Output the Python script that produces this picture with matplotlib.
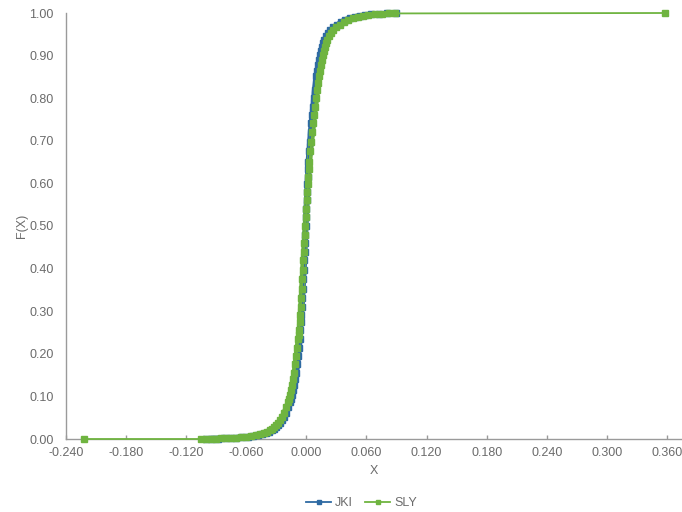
import matplotlib
matplotlib.use("Agg")
import matplotlib.pyplot as plt
from matplotlib.ticker import FormatStrFormatter

sly_x = [-0.222, -0.105, -0.100, -0.095, -0.090, -0.085, -0.080, -0.075, -0.070, -0.065,
         -0.060, -0.055, -0.050, -0.046, -0.042, -0.039, -0.036, -0.034, -0.032, -0.030,
         -0.028, -0.026, -0.024, -0.022, -0.020, -0.018, -0.017, -0.016, -0.015, -0.014,
         -0.013, -0.012, -0.011, -0.010, -0.009, -0.008, -0.0075, -0.007, -0.0065, -0.006,
         -0.0055, -0.005, -0.0045, -0.004, -0.0035, -0.003, -0.0025, -0.002, -0.0015, -0.001,
         -0.0005, 0.000, 0.0005, 0.001, 0.0015, 0.002, 0.0025, 0.003, 0.004, 0.005,
         0.006, 0.007, 0.008, 0.009, 0.010, 0.011, 0.012, 0.013, 0.014, 0.015,
         0.016, 0.017, 0.018, 0.019, 0.020, 0.021, 0.023, 0.025, 0.027, 0.030,
         0.034, 0.038, 0.042, 0.047, 0.052, 0.057, 0.062, 0.068, 0.075, 0.082,
         0.088, 0.358]
sly_f = [0.000, 0.000, 0.000, 0.001, 0.001, 0.002, 0.002, 0.003, 0.003, 0.004,
         0.005, 0.007, 0.009, 0.011, 0.013, 0.016, 0.020, 0.024, 0.028, 0.033,
         0.038, 0.045, 0.052, 0.062, 0.074, 0.086, 0.094, 0.104, 0.115, 0.127,
         0.140, 0.156, 0.175, 0.195, 0.214, 0.234, 0.245, 0.256, 0.275, 0.292,
         0.311, 0.330, 0.352, 0.375, 0.397, 0.420, 0.440, 0.460, 0.480, 0.500,
         0.520, 0.540, 0.560, 0.580, 0.598, 0.615, 0.633, 0.650, 0.675, 0.698,
         0.720, 0.741, 0.761, 0.780, 0.800, 0.820, 0.836, 0.851, 0.865, 0.878,
         0.890, 0.901, 0.911, 0.921, 0.929, 0.937, 0.946, 0.954, 0.960, 0.966,
         0.972, 0.979, 0.984, 0.988, 0.991, 0.994, 0.996, 0.997, 0.998, 0.999,
         0.999, 1.000]

jki_x = [-0.100, -0.094, -0.088, -0.082, -0.076, -0.070, -0.064, -0.058, -0.053, -0.048,
         -0.044, -0.040, -0.037, -0.034, -0.032, -0.030, -0.028, -0.026, -0.024, -0.022,
         -0.020, -0.018, -0.016, -0.015, -0.014, -0.013, -0.012, -0.011, -0.010, -0.009,
         -0.008, -0.0072, -0.0065, -0.006, -0.0055, -0.005, -0.0045, -0.004, -0.0035, -0.003,
         -0.0025, -0.002, -0.0017, -0.0013, -0.001, -0.0007, -0.0003, 0.000, 0.0003, 0.0007,
         0.001, 0.0013, 0.0017, 0.002, 0.0027, 0.0035, 0.0042, 0.005, 0.0058, 0.0066,
         0.0075, 0.0083, 0.0092, 0.010, 0.011, 0.012, 0.013, 0.014, 0.015, 0.016,
         0.017, 0.018, 0.020, 0.022, 0.024, 0.027, 0.031, 0.035, 0.039, 0.044,
         0.049, 0.054, 0.059, 0.065, 0.072, 0.080, 0.089]
jki_f = [0.000, 0.001, 0.001, 0.002, 0.002, 0.003, 0.004, 0.005, 0.007, 0.009,
         0.011, 0.013, 0.016, 0.020, 0.024, 0.028, 0.033, 0.038, 0.045, 0.052,
         0.062, 0.074, 0.086, 0.094, 0.104, 0.115, 0.127, 0.140, 0.156, 0.175,
         0.195, 0.214, 0.234, 0.256, 0.275, 0.292, 0.311, 0.330, 0.352, 0.375,
         0.397, 0.420, 0.440, 0.460, 0.480, 0.500, 0.520, 0.540, 0.560, 0.580,
         0.598, 0.615, 0.633, 0.650, 0.675, 0.698, 0.720, 0.741, 0.761, 0.780,
         0.800, 0.820, 0.836, 0.851, 0.865, 0.878, 0.890, 0.901, 0.911, 0.921,
         0.929, 0.937, 0.946, 0.954, 0.960, 0.966, 0.972, 0.979, 0.984, 0.988,
         0.991, 0.994, 0.996, 0.997, 0.998, 0.999, 1.000]

x_ticks = [-0.24, -0.18, -0.12, -0.06, 0.0, 0.06, 0.12, 0.18, 0.24, 0.30, 0.36]
y_ticks = [0.0, 0.1, 0.2, 0.3, 0.4, 0.5, 0.6, 0.7, 0.8, 0.9, 1.0]

BLUE = "#2e6aa3"
GREEN = "#6fb440"
GRAY_TXT = "#6b6b6b"
GRAY_AX = "#9a9a9a"

plt.rcParams['font.family'] = ['Liberation Sans', 'DejaVu Sans']

fig = plt.figure(figsize=(6.82, 5.12), dpi=100)
ax = fig.add_axes([66/682, 1 - 439/512, (682 - 66)/682, (439 - 13)/512])

# dense band where many observations overlap (isolated extremes excluded)
ax.plot(jki_x, jki_f, color=BLUE, lw=4.0, solid_capstyle='butt', zorder=2)
ax.plot(sly_x[1:-1], sly_f[1:-1], color=GREEN, lw=4.0, solid_capstyle='butt', zorder=3)

ax.plot(jki_x, jki_f, color=BLUE, lw=1.3, marker='s', ms=4.2, mec=BLUE, mfc=BLUE,
        label='JKI', clip_on=False, zorder=3)
ax.plot(sly_x, sly_f, color=GREEN, lw=1.3, marker='s', ms=4.2, mec=GREEN, mfc=GREEN,
        label='SLY', clip_on=False, zorder=4)

ax.set_xlim(-0.24, 0.36 + 15/1000)
ax.set_ylim(0, 1.0)
ax.set_xticks(x_ticks)
ax.set_yticks(y_ticks)
ax.xaxis.set_major_formatter(FormatStrFormatter('%.3f'))
ax.yaxis.set_major_formatter(FormatStrFormatter('%.2f'))

for s in ['top', 'right']:
    ax.spines[s].set_visible(False)
for s in ['left', 'bottom']:
    ax.spines[s].set_color(GRAY_AX)
    ax.spines[s].set_linewidth(1.0)

ax.tick_params(axis='x', direction='in', length=3, width=1, color=GRAY_AX,
               labelsize=9, labelcolor=GRAY_TXT, pad=6)
ax.tick_params(axis='y', length=0, labelsize=9, labelcolor=GRAY_TXT, pad=9)

ax.set_xlabel('X', fontsize=9, color=GRAY_TXT, labelpad=4)
ax.set_ylabel('F(X)', fontsize=9, color=GRAY_TXT, labelpad=1)

leg = fig.legend(loc='center', bbox_to_anchor=(0.53, 1 - 503/512), ncol=2, frameon=False,
                 fontsize=9, handlelength=2.0, columnspacing=1.0, handletextpad=0.3,
                 markerscale=0.8)
for t in leg.get_texts():
    t.set_color(GRAY_TXT)

fig.savefig('out.png', dpi=100)
